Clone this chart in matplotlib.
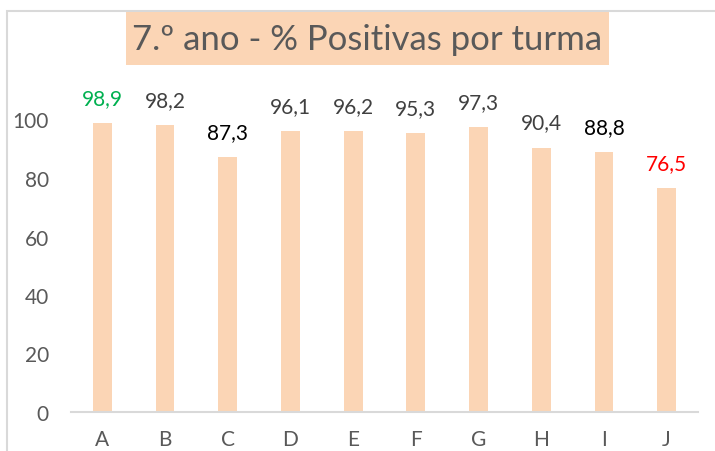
import matplotlib.pyplot as plt
from matplotlib.patches import Rectangle

turmas = ["A", "B", "C", "D", "E", "F", "G", "H", "I", "J"]
positivas = [98.9, 98.2, 87.3, 96.1, 96.2, 95.3, 97.3, 90.4, 88.8, 76.5]
label_colors = ["#00B050", "#404040", "#000000", "#404040", "#404040",
                "#404040", "#404040", "#404040", "#000000", "#FF0000"]
yticks = [0, 20, 40, 60, 80, 100]
title = "7.º ano - % Positivas por turma"

PEACH = "#FBD5B5"
GRAY = "#595959"

plt.rcParams['font.family'] = ['Lato', 'DejaVu Sans']

W, H = 715, 452
fig = plt.figure(figsize=(W / 100, H / 100), dpi=100)

# chart area border (left and top visible)
fig.patches.append(Rectangle((7 / W, -0.1), 1.2, 1 - 12 / H + 0.1, transform=fig.transFigure,
                             facecolor="none", edgecolor="#D9D9D9", linewidth=1.5))

ax = fig.add_axes([71 / W, 1 - 413 / H, (698 - 71) / W, (413 - 62) / H])
x = range(len(turmas))
bars = ax.bar(x, positivas, width=0.3, color=PEACH)
ax.set_xlim(-0.5, len(turmas) - 0.5)
ax.set_ylim(0, 120)
ax.set_yticks(yticks)
ax.set_xticks(list(x))
ax.set_xticklabels(turmas)

for s in ["top", "right", "left"]:
    ax.spines[s].set_visible(False)
ax.spines["bottom"].set_color("#D9D9D9")
ax.spines["bottom"].set_linewidth(1.5)
ax.tick_params(axis="y", length=0, pad=16, labelsize=15, labelcolor=GRAY)
ax.tick_params(axis="x", length=0, pad=12, labelsize=15, labelcolor=GRAY)

for b, v, c in zip(bars, positivas, label_colors):
    ax.annotate(("%.1f" % v).replace(".", ","), (b.get_x() + b.get_width() / 2, v),
                xytext=(0, 18), textcoords="offset points", ha="center", va="center",
                fontsize=15, color=c)

# title with peach box
fig.patches.append(Rectangle((126 / W, 1 - 66 / H), (609 - 126) / W, 53 / H,
                             transform=fig.transFigure, facecolor=PEACH, edgecolor="none"))
fig.text(367.5 / W, 1 - 40 / H, title, ha="center", va="center", fontsize=25, color=GRAY)

fig.savefig("out.png", dpi=100)
